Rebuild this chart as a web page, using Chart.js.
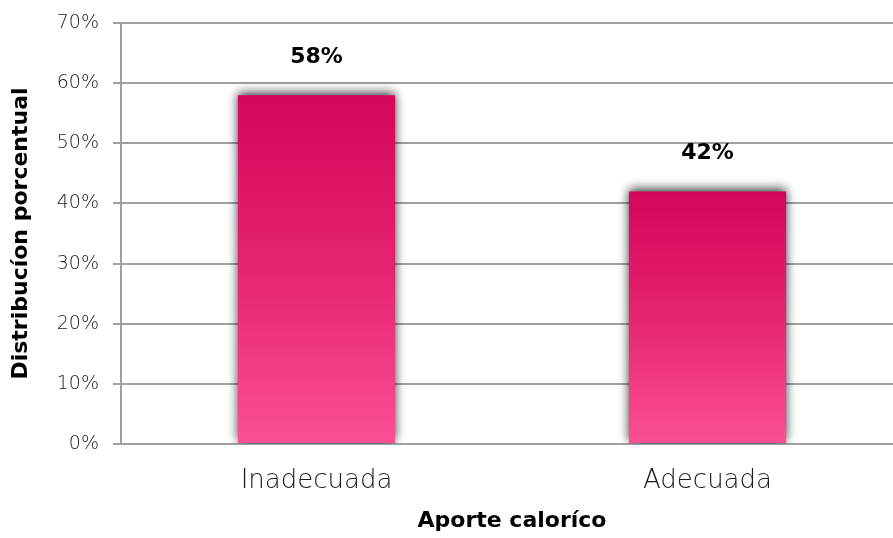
<!DOCTYPE html>
<html>
<head>
<meta charset="utf-8">
<script src="https://cdn.jsdelivr.net/npm/chart.js@4.4.0/dist/chart.umd.min.js"></script>
<style>
  html, body { margin: 0; padding: 0; background: #fff; }
  #wrap { width: 893px; height: 538px; overflow: hidden; position: relative; }
  #interior { width: 903px; height: 538px; }
</style>
</head>
<body>
<div id="wrap"><div id="interior"><canvas id="grafico"></canvas></div></div>
<script>
const categorias = ['Inadecuada', 'Adecuada'];
const valores = [58, 42];
const ticksY = [0, 10, 20, 30, 40, 50, 60, 70];

const fuente = "'DejaVu Sans', sans-serif";

// degradado por barra, de oscuro arriba a claro abajo
function colorBarra(context) {
    const chart = context.chart;
    const yScale = chart.scales.y;
    if (!chart.chartArea || !yScale || context.dataIndex === undefined) return '#e0206e';
    const top = yScale.getPixelForValue(valores[context.dataIndex]);
    const bottom = yScale.getPixelForValue(0);
    if (!isFinite(top) || !isFinite(bottom)) return '#e0206e';
    const g = chart.ctx.createLinearGradient(0, top, 0, bottom);
    g.addColorStop(0, '#d4065a');
    g.addColorStop(0.5, '#e5246f');
    g.addColorStop(1, '#fc5094');
    return g;
}

const sombraBarras = {
    id: 'sombraBarras',
    beforeDatasetsDraw(chart) {
        const ctx = chart.ctx;
        ctx.save();
        ctx.shadowColor = 'rgba(0,0,0,0.8)';
        ctx.shadowBlur = 10;
        ctx.shadowOffsetX = 0;
        ctx.shadowOffsetY = -2;
    },
    afterDatasetsDraw(chart) {
        chart.ctx.restore();
    }
};

const etiquetas = {
    id: 'etiquetas',
    afterDatasetsDraw(chart) {
        const ctx = chart.ctx;
        const meta = chart.getDatasetMeta(0);
        ctx.save();
        ctx.font = "bold 22px " + fuente;
        ctx.fillStyle = '#000';
        ctx.textAlign = 'center';
        ctx.textBaseline = 'middle';
        meta.data.forEach((bar, i) => {
            ctx.fillText(valores[i] + '%', bar.x, bar.y - 38);
        });
        ctx.restore();
    }
};

new Chart(document.getElementById('grafico'), {
    type: 'bar',
    data: {
        labels: categorias,
        datasets: [{
            data: valores,
            backgroundColor: colorBarra,
            borderWidth: 0,
            barPercentage: 0.402,
            categoryPercentage: 1
        }]
    },
    options: {
        responsive: true,
        maintainAspectRatio: false,
        animation: false,
        layout: { padding: { top: 23, right: 0, left: 0, bottom: 0 } },
        plugins: {
            legend: { display: false },
            tooltip: { enabled: false }
        },
        scales: {
            x: {
                grid: { display: false, drawTicks: false },
                border: { display: true, color: '#a0a0a0', width: 2 },
                ticks: { color: '#1a1a1a', font: { family: fuente, size: 26, weight: 300 }, padding: 22 },
                title: {
                    display: true, text: 'Aporte caloríco', color: '#000',
                    font: { family: fuente, size: 22, weight: 'bold' }, padding: { top: 6 }
                },
                afterFit(scale) { scale.height = 94; }
            },
            y: {
                min: 0, max: 70,
                afterBuildTicks(scale) { scale.ticks = ticksY.map(v => ({ value: v })); },
                grid: { color: '#a0a0a0', lineWidth: 2, tickLength: 8 },
                border: { display: true, color: '#a0a0a0', width: 2 },
                ticks: {
                    color: '#1a1a1a', padding: 14,
                    font: { family: fuente, size: 19, weight: 300 },
                    callback: v => v + '%'
                },
                title: {
                    display: true, text: 'Distribucíon porcentual', color: '#000',
                    font: { family: fuente, size: 22, weight: 'bold' }, padding: { top: 8, bottom: 0 }
                },
                afterFit(scale) {
                    scale.width = 121;
                    scale.paddingTop = 0;
                    scale.paddingBottom = 0;
                }
            }
        }
    },
    plugins: [sombraBarras, etiquetas]
});
</script>
</body>
</html>
